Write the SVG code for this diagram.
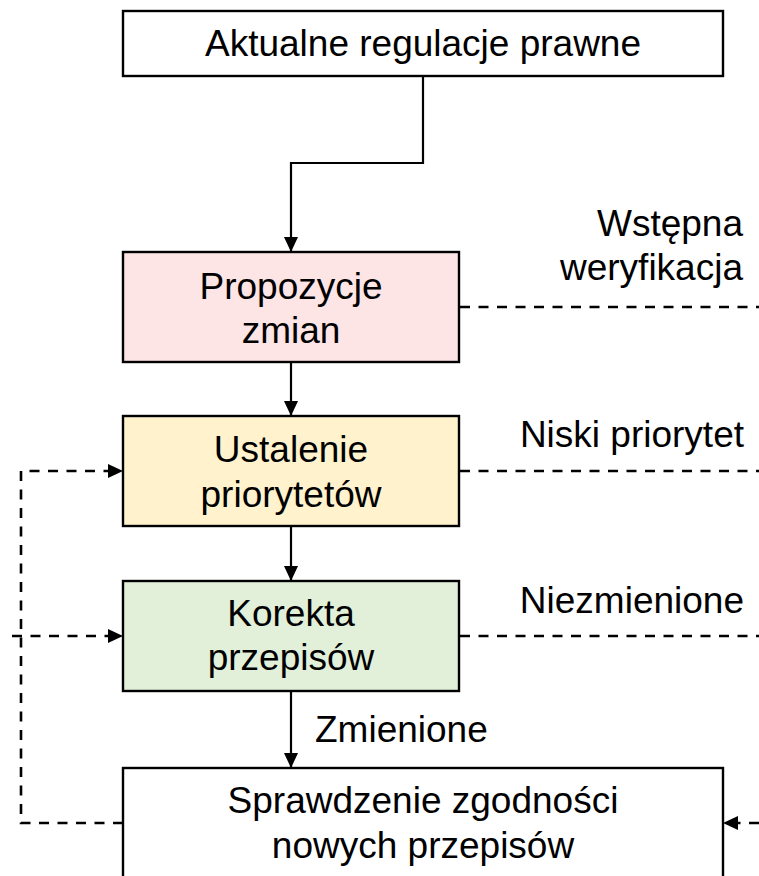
<svg xmlns="http://www.w3.org/2000/svg" width="759" height="876" viewBox="0 0 759 876">
  <style>
    .box { stroke: #000; stroke-width: 2.4; }
    .lbl { font-family: "Liberation Sans", Arial, sans-serif; font-size: 37px; fill: #000; }
    .mid { text-anchor: middle; }
    .end { text-anchor: end; }
    .solid { fill: none; stroke: #000; stroke-width: 2.2; }
    .dash { fill: none; stroke: #000; stroke-width: 2.6; stroke-dasharray: 10 8.5; }
  </style>
  <defs>
    <marker id="arrow" markerUnits="userSpaceOnUse" markerWidth="15" markerHeight="14" refX="15" refY="7" orient="auto">
      <path d="M0,0 L15,7 L0,14 Z" fill="#000"/>
    </marker>
  </defs>
  <rect width="759" height="876" fill="#fff"/>

  <g id="connectors">
    <path class="solid" d="M423,76 V163 H291 V252" marker-end="url(#arrow)"/>
    <path class="solid" d="M291,362 V416" marker-end="url(#arrow)"/>
    <path class="solid" d="M291,526 V581" marker-end="url(#arrow)"/>
    <path class="solid" d="M291,691 V768" marker-end="url(#arrow)"/>
    <path class="dash" d="M460,307 H759"/>
    <path class="dash" d="M460,471 H759"/>
    <path class="dash" d="M460,636 H759"/>
    <path class="dash" d="M759,823 H723" marker-end="url(#arrow)"/>
    <path class="dash" d="M123,823 H21 V471 H123" marker-end="url(#arrow)"/>
    <path class="dash" d="M12,636 H123" marker-end="url(#arrow)"/>
    <text class="lbl" x="315" y="742">Zmienione</text>
    <text class="lbl end" x="743" y="236">Wstępna</text>
    <text class="lbl end" x="743" y="280">weryfikacja</text>
    <text class="lbl end" x="744" y="447">Niski priorytet</text>
    <text class="lbl end" x="744" y="613">Niezmienione</text>
  </g>

  <g id="aktualne">
    <rect class="box" x="123" y="11" width="600" height="65" fill="#fff"/>
    <text class="lbl mid" x="423" y="56">Aktualne regulacje prawne</text>
  </g>

  <g id="propozycje">
    <rect class="box" x="123" y="252" width="336" height="110" fill="#FDE4E5"/>
    <text class="lbl mid" x="291" y="299">Propozycje</text>
    <text class="lbl mid" x="291" y="343">zmian</text>
  </g>

  <g id="priorytety">
    <rect class="box" x="123" y="416" width="336" height="110" fill="#FFF2CC"/>
    <text class="lbl mid" x="291" y="462">Ustalenie</text>
    <text class="lbl mid" x="291" y="507">priorytetów</text>
  </g>

  <g id="korekta">
    <rect class="box" x="123" y="581" width="336" height="110" fill="#E2F0D9"/>
    <text class="lbl mid" x="291" y="626">Korekta</text>
    <text class="lbl mid" x="291" y="670">przepisów</text>
  </g>

  <g id="sprawdzenie">
    <rect class="box" x="123" y="768" width="600" height="130" fill="#fff"/>
    <text class="lbl mid" x="423" y="813">Sprawdzenie zgodności</text>
    <text class="lbl mid" x="423" y="858">nowych przepisów</text>
  </g>
</svg>
